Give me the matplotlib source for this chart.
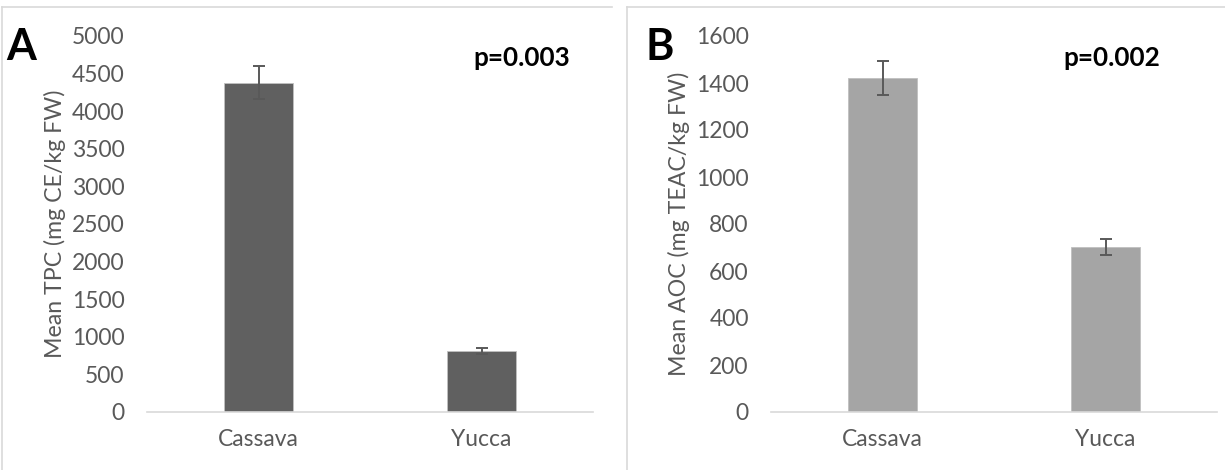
import matplotlib
matplotlib.use("Agg")
import matplotlib.pyplot as plt
from matplotlib.lines import Line2D

plt.rcParams['font.family'] = ['Lato', 'DejaVu Sans']

categories = ['Cassava', 'Yucca']

tpc_mean = [4380, 810]
tpc_err = [220, 40]

aoc_mean = [1420, 702]
aoc_err = [72, 36]

W, H = 1225, 470
fig = plt.figure(figsize=(W / 100, H / 100), dpi=100)

txt_col = '#595959'
grid_col = '#D9D9D9'


def panel(rect, vals, errs, color, ymax, ystep, ylabel, letter, letter_x, ptext, px):
    ax = fig.add_axes(rect)
    ax.bar(categories, vals, width=0.31, color=color, edgecolor='#C0C0C0', linewidth=0.6,
           yerr=errs, capsize=4.5, error_kw=dict(ecolor=txt_col, elinewidth=1.4, capthick=1.4))
    ax.set_ylim(0, ymax)
    ax.set_xlim(-0.5, 1.5)
    ax.set_yticks(range(0, ymax + 1, ystep))
    for s in ['top', 'right', 'left']:
        ax.spines[s].set_visible(False)
    ax.spines['bottom'].set_color(grid_col)
    ax.spines['bottom'].set_linewidth(1.2)
    ax.tick_params(axis='both', length=0, labelsize=16.5, labelcolor=txt_col)
    ax.tick_params(axis='y', pad=16)
    ax.tick_params(axis='x', pad=12)
    ax.text(-0.207, 0.5, ylabel, transform=ax.transAxes, rotation=90,
            ha='center', va='center', fontsize=16.7, color=txt_col)
    fig.text(letter_x / W, 1 - 47.5 / H, letter, ha='center', va='center',
             fontsize=31, fontweight='bold', color='black')
    fig.text(px / W, 1 - 58 / H, ptext, ha='center', va='center',
             fontsize=18.8, fontweight='bold', color='black')
    return ax


ax1 = panel([147 / W, 58 / H, 446 / W, 376 / H], tpc_mean, tpc_err, '#606060', 5000, 500,
            'Mean TPC (mg CE/kg FW)', 'A', 21, 'p=0.003', 522)
ax2 = panel([771 / W, 58 / H, 446 / W, 376 / H], aoc_mean, aoc_err, '#A5A5A5', 1600, 200,
            'Mean AOC (mg TEAC/kg FW)', 'B', 660, 'p=0.002', 1112)

# panel frames
for x0, x1 in [(2, 612), (627, 1225)]:
    fig.add_artist(Line2D([x0 / W, x1 / W], [1 - 7 / H, 1 - 7 / H], color=grid_col, lw=1.2,
                          transform=fig.transFigure))
    fig.add_artist(Line2D([x0 / W, x0 / W], [0, 1 - 7 / H], color=grid_col, lw=1.2,
                          transform=fig.transFigure))

fig.savefig('out.png', dpi=100)
